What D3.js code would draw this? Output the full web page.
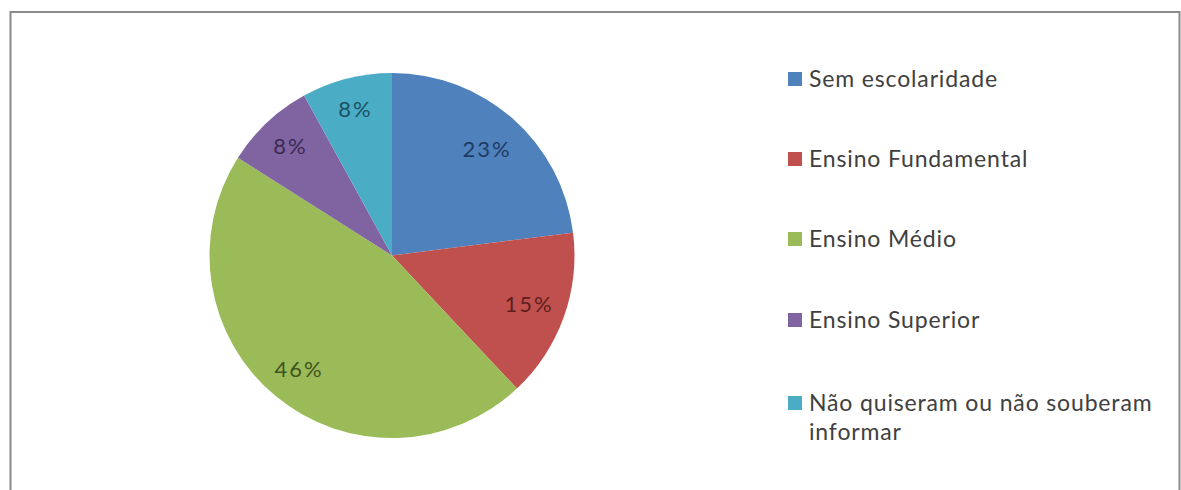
<!DOCTYPE html>
<html><head><meta charset="utf-8">
<script src="https://cdn.jsdelivr.net/npm/d3@7"></script>
<style>html,body{margin:0;padding:0;background:#fff;}svg{display:block;}</style>
</head><body>
<svg id="c" width="1181" height="490"></svg>
<script>
const categories = ["Sem escolaridade","Ensino Fundamental","Ensino Médio","Ensino Superior","Não quiseram ou não souberam informar"];
const values = [23,15,46,8,8];
const labels = ["23%","15%","46%","8%","8%"];
const colors = ["#4F81BD","#C0504D","#9BBB59","#8064A2","#4BACC6"];
const labelColors = ["#1F3B63","#5E1F1E","#3F5420","#3B2A54","#1A5363"];

const svg = d3.select("#c");
const font = "Lato, 'Open Sans', sans-serif";

svg.append("rect").attr("x",10.5).attr("y",12).attr("width",1169).attr("height",490)
  .attr("fill","#fff").attr("stroke","#8a8a8a").attr("stroke-width",2);

const cx = 392, cy = 255.5, R = 182.5;
const pie = d3.pie().value(d=>d).sort(null);
const arcs = pie(values);
const arc = d3.arc().innerRadius(0).outerRadius(R);
const g = svg.append("g").attr("transform",`translate(${cx},${cy})`);
g.selectAll("path").data(arcs).join("path")
  .attr("d",arc).attr("fill",(d,i)=>colors[i]);

const lr = [0.78,0.793,0.808,0.82,0.83];
g.selectAll("text").data(arcs).join("text")
  .attr("transform",(d,i)=>{
    const a=(d.startAngle+d.endAngle)/2, r=R*lr[i];
    return `translate(${r*Math.sin(a)+1},${-r*Math.cos(a)})`;})
  .attr("text-anchor","middle").attr("dy","0.36em")
  .attr("font-family",font).attr("font-size",22).attr("letter-spacing",2)
  .attr("fill",(d,i)=>labelColors[i])
  .text((d,i)=>labels[i]);

const leg = svg.append("g");
const rowY = [79,159,239,320,403];
categories.forEach((c,i)=>{
  leg.append("rect").attr("x",788).attr("y",rowY[i]-7).attr("width",14).attr("height",14).attr("fill",colors[i]);
  const t = leg.append("text").attr("x",809).attr("y",rowY[i]).attr("dy","0.36em")
    .attr("font-family",font).attr("font-size",23).attr("letter-spacing",0.85).attr("fill","#404040");
  if (i===4) {
    t.append("tspan").attr("x",809).text("Não quiseram ou não souberam");
    t.append("tspan").attr("x",809).attr("dy",29).text("informar");
  } else t.text(c);
});
</script>
</body></html>
